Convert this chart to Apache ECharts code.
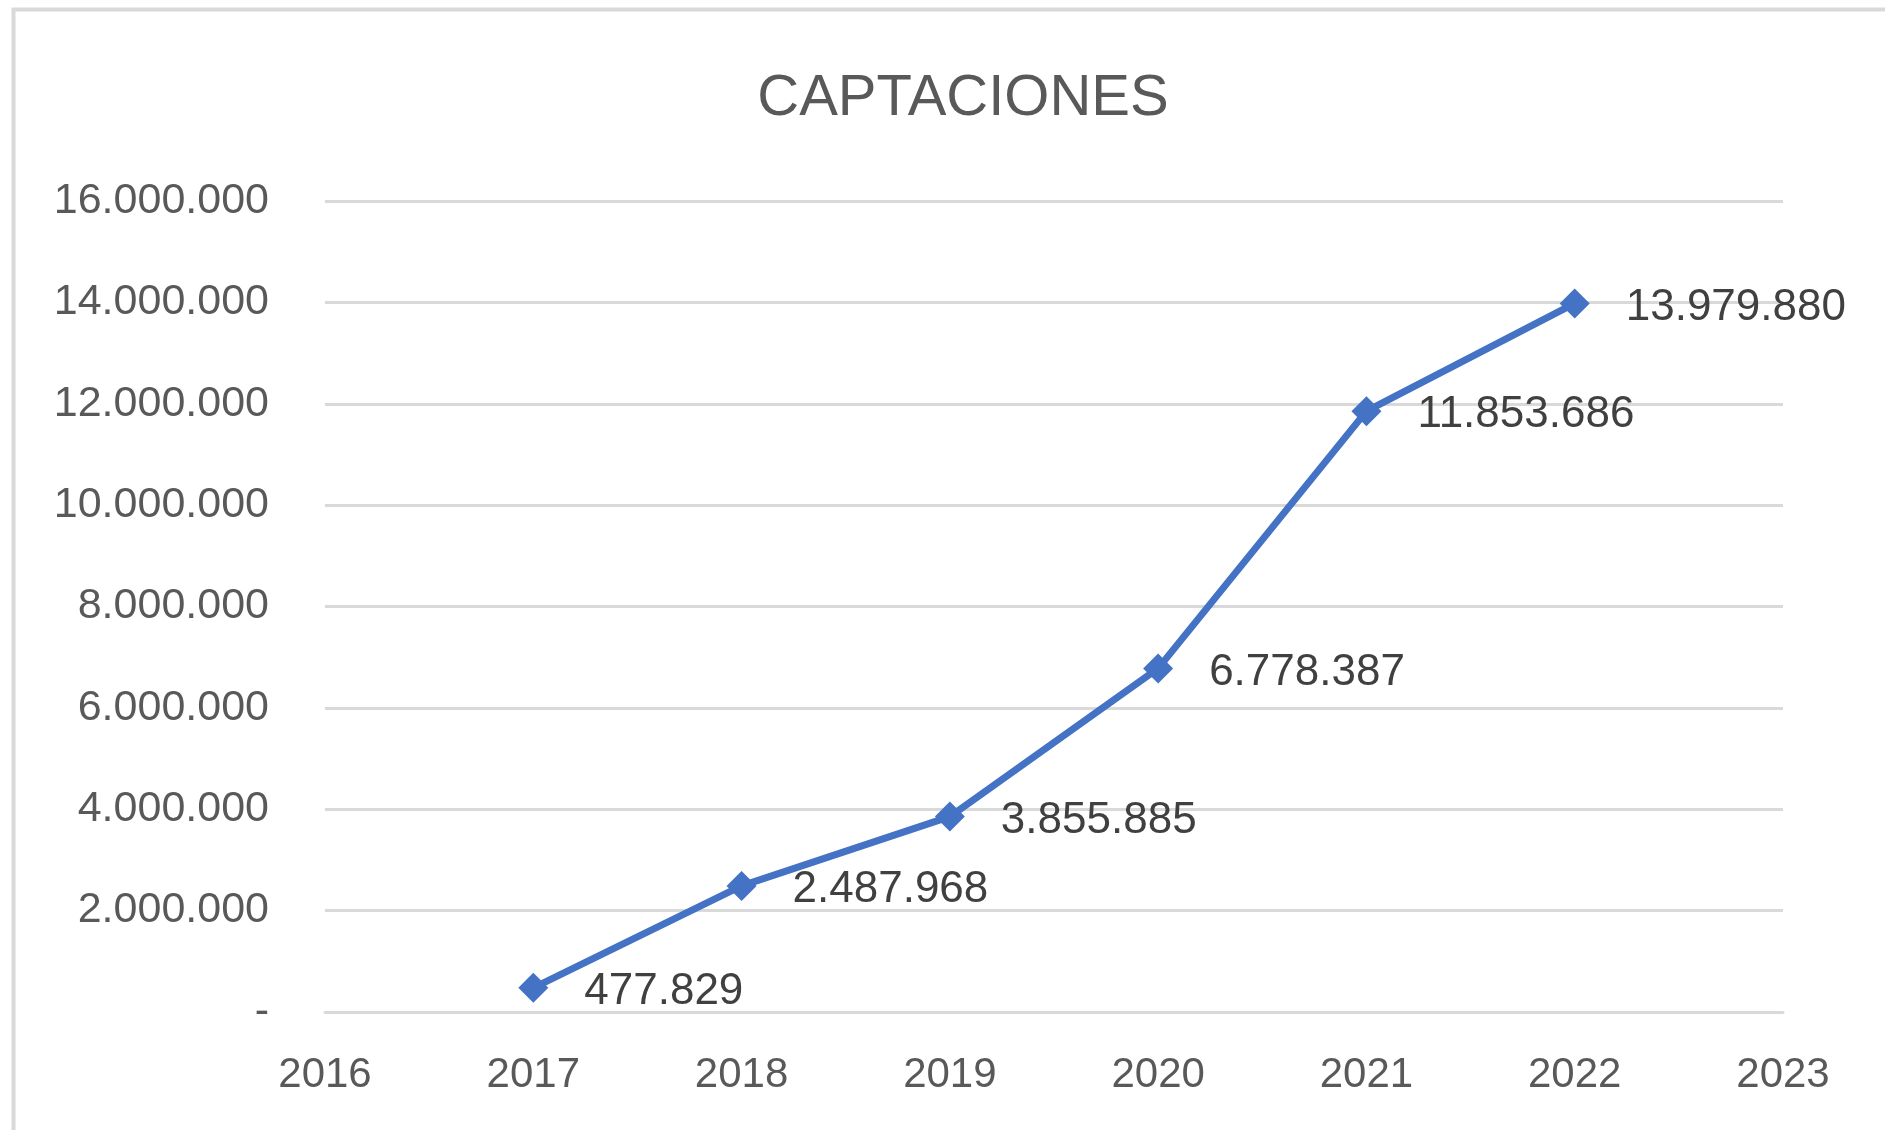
<!DOCTYPE html>
<html>
<head>
<meta charset="utf-8">
<script src="https://cdn.jsdelivr.net/npm/echarts@6/dist/echarts.min.js"></script>
<style>
html,body{margin:0;padding:0;background:#fff;}
#chart{width:1885px;height:1130px;}
</style>
</head>
<body>
<div id="chart"></div>
<script>
const titleText = 'CAPTACIONES';
const years = ['2016','2017','2018','2019','2020','2021','2022','2023'];
const captaciones = [null, 477829, 2487968, 3855885, 6778387, 11853686, 13979880, null];
const yMin = 0, yMax = 16000000, yStep = 2000000;

function fmt(v){
  if (v === 0) return '-';
  return String(Math.round(v)).replace(/\B(?=(\d{3})+(?!\d))/g, '.');
}

const chart = echarts.init(document.getElementById('chart'), null, {renderer:'canvas'});
chart.setOption({
  backgroundColor:'#ffffff',
  animation:false,
  graphic:[{
    type:'rect', left:11, top:7, z:-1,
    shape:{width:1900, height:1140},
    style:{fill:'none', stroke:'#d9d9d9', lineWidth:4}
  }],
  title:{
    text:titleText, left:958, top:94, textAlign:'center', textVerticalAlign:'middle',
    textStyle:{fontFamily:'Liberation Sans', fontSize:58, fontWeight:'normal', color:'#595959'}
  },
  grid:{left:325, right:102, top:201, bottom:118, containLabel:false},
  xAxis:{
    type:'category', data:years, boundaryGap:false,
    axisLine:{show:true, lineStyle:{color:'#d9d9d9', width:3}},
    axisTick:{show:false},
    axisLabel:{margin:42, fontFamily:'Liberation Sans', fontSize:42, color:'#595959'},
    splitLine:{show:false}
  },
  yAxis:{
    type:'value', min:yMin, max:yMax, interval:yStep,
    axisLine:{show:false}, axisTick:{show:false},
    axisLabel:{margin:56, fontFamily:'Liberation Sans', fontSize:43, color:'#595959', formatter:fmt},
    splitLine:{lineStyle:{color:'#d9d9d9', width:3}}
  },
  series:[{
    type:'line', data:captaciones, connectNulls:false,
    symbol:'diamond', symbolSize:30,
    lineStyle:{color:'#4472C4', width:7},
    itemStyle:{color:'#4472C4'},
    label:{show:true, position:'right', distance:36, offset:[0,4],
      fontFamily:'Liberation Sans', fontSize:44, color:'#404040',
      formatter:p => fmt(p.value)}
  }]
});
</script>
</body>
</html>
